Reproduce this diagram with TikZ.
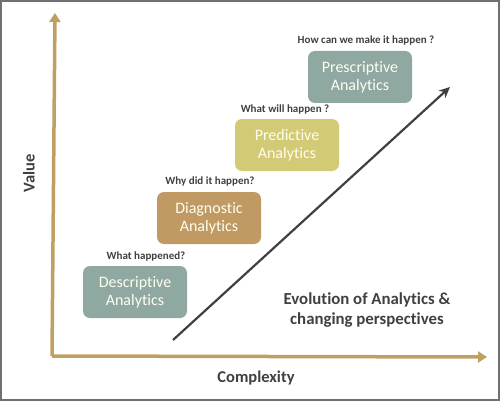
\documentclass[tikz,border=0pt]{standalone}
\usepackage{fontspec}
\setmainfont{Carlito}[RawFeature={-liga;-clig;-calt;-dlig}]
\usetikzlibrary{arrows.meta}
\definecolor{axiscol}{HTML}{C0A062}
\definecolor{tealbox}{HTML}{8FA8A2}
\definecolor{tanbox}{HTML}{C09A62}
\definecolor{yelbox}{HTML}{D2CA74}
\definecolor{darktxt}{HTML}{404040}
\definecolor{framecol}{HTML}{707070}
\tikzset{
  stagebox/.style={rounded corners=7pt, minimum width=104pt, minimum height=52pt,
    text=white!94!yellow, font=\fontsize{16}{18}\selectfont, align=center, inner sep=0pt},
  question/.style={text=darktxt, font=\bfseries\fontsize{11}{13}\selectfont, inner sep=0pt},
  axisline/.style={draw=axiscol, line width=3.5pt, -{Triangle[length=9pt,width=11pt]}},
}
\begin{document}
\begin{tikzpicture}[x=1pt,y=-1pt]
\useasboundingbox (0,0) rectangle (500,401);
\draw[framecol, line width=2pt] (1,1) rectangle (499,400);
\coordinate (origin) at (52,356);
\coordinate (ytip) at (55,13);
\coordinate (xtip) at (487,357);
\draw[axisline] (origin) -- (ytip);
\draw[axisline] (origin) -- (xtip);
\node[rotate=90, text=darktxt, font=\bfseries\fontsize{16.5}{19}\selectfont] (value) at (29,173) {Value};
\node[text=darktxt, font=\bfseries\fontsize{16.5}{19}\selectfont] (complexity) at (256,378) {Complexity};

\node[stagebox, fill=tealbox] (desc) at (135,292) {Descriptive\\Analytics};
\node[question] (q1) at (146,257) {What happened?};
\node[stagebox, fill=tanbox] (diag) at (209,218) {Diagnostic\\Analytics};
\node[question] (q2) at (210,182) {Why did it happen?};
\node[stagebox, fill=yelbox] (pred) at (287,145) {Predictive\\Analytics};
\node[question] (q3) at (285,110) {What will happen ?};
\node[stagebox, fill=tealbox] (presc) at (360,77) {Prescriptive\\Analytics};
\node[question] (q4) at (366,41) {How can we make it happen ?};

\coordinate (dstart) at (173,340);
\coordinate (dend) at (450,87);
\draw[darktxt, line width=2.2pt, -{Stealth[length=11pt,width=10pt]}] (dstart) -- (dend);

\node[text=darktxt, font=\bfseries\fontsize{16.8}{20}\selectfont, align=center] (evo) at (367,310) {Evolution of Analytics \&\\changing perspectives};
\end{tikzpicture}
\end{document}
